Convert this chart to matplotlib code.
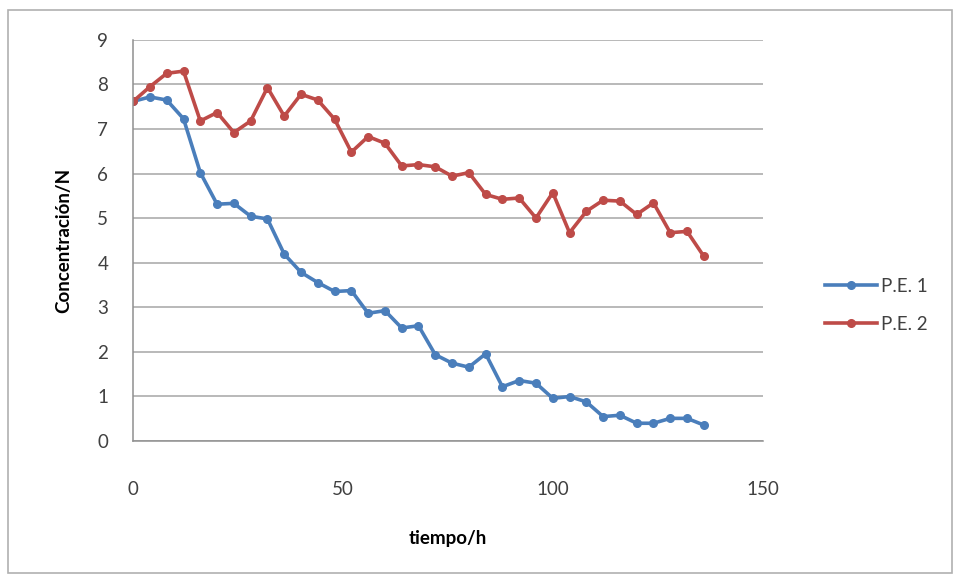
import matplotlib.pyplot as plt
from matplotlib.patches import Rectangle

# Data (samples every 4 h)
tiempo = list(range(0, 137, 4))
pe1 = [7.62, 7.72, 7.65, 7.23, 6.02, 5.31, 5.33, 5.04, 4.98, 4.19,
       3.78, 3.55, 3.35, 3.37, 2.86, 2.92, 2.53, 2.58, 1.93, 1.74,
       1.65, 1.95, 1.21, 1.35, 1.29, 0.95, 0.99, 0.87, 0.54, 0.57,
       0.39, 0.39, 0.50, 0.50, 0.35]
pe2 = [7.62, 7.95, 8.25, 8.30, 7.18, 7.37, 6.92, 7.18, 7.93, 7.29,
       7.78, 7.65, 7.22, 6.48, 6.83, 6.68, 6.17, 6.20, 6.15, 5.94,
       6.02, 5.53, 5.42, 5.45, 5.00, 5.57, 4.67, 5.15, 5.40, 5.38,
       5.08, 5.34, 4.67, 4.70, 4.14]

plt.rcParams['font.family'] = ['Lato', 'DejaVu Sans']

fig = plt.figure(figsize=(9.58, 5.79), dpi=100)
ax = fig.add_axes([0.139, 0.239, 0.657, 0.692])

# chart area border
fig.patches.append(Rectangle((8 / 958, 6 / 579), 944 / 958, 563 / 579,
                             transform=fig.transFigure, fill=False,
                             edgecolor='#b0b0b0', linewidth=1.2))

ax.plot(tiempo, pe1, color='#4a7ebb', linewidth=2.6, marker='o',
        markersize=5.5, label='P.E. 1')
ax.plot(tiempo, pe2, color='#be4b48', linewidth=2.6, marker='o',
        markersize=5.5, label='P.E. 2')

ax.set_xlim(0, 150)
ax.set_ylim(0, 9)
ax.set_xticks([0, 50, 100, 150])
ax.set_yticks(range(0, 10))
ax.grid(axis='y', color='#a6a6a6', linewidth=1.1)
ax.set_axisbelow(True)
for side in ['top', 'right']:
    ax.spines[side].set_visible(False)
for side in ['left', 'bottom']:
    ax.spines[side].set_color('#909090')
    ax.spines[side].set_linewidth(1.1)
ax.tick_params(length=0, labelsize=13.5, labelcolor='#404040')
ax.tick_params(axis='x', pad=29)
ax.tick_params(axis='y', pad=18)

ax.set_xlabel('tiempo/h', fontsize=13.5, fontweight='bold', labelpad=23)
ax.set_ylabel('Concentración/N', fontsize=13.5, fontweight='bold', labelpad=18)

ax.legend(loc='center left', bbox_to_anchor=(1.072, 0.338), frameon=False,
          fontsize=13.5, handlelength=2.8, labelspacing=1.1, handletextpad=0.2,
          labelcolor='#404040')

fig.savefig('out.png', dpi=100)
